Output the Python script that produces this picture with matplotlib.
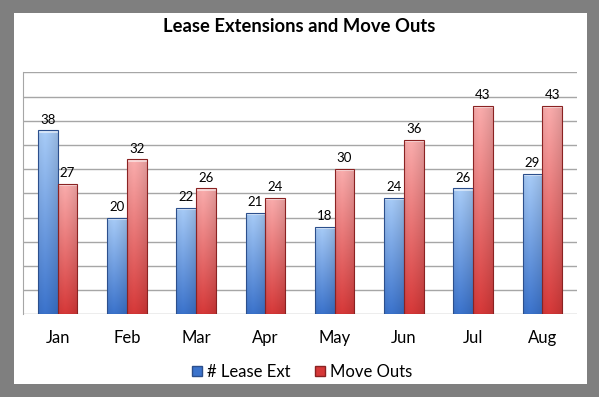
import numpy as np
import matplotlib.pyplot as plt
from matplotlib.patches import Rectangle, Patch

plt.rcParams['font.family'] = ['Lato', 'DejaVu Sans']

months = ["Jan", "Feb", "Mar", "Apr", "May", "Jun", "Jul", "Aug"]
lease_ext = [38, 20, 22, 21, 18, 24, 26, 29]
move_outs = [27, 32, 26, 24, 30, 36, 43, 43]

series_names = ["# Lease Ext", "Move Outs"]
# top colour, bottom colour, edge colour
blue = ((0.66, 0.80, 0.97), (0.23, 0.45, 0.80), "#2c4f8c")
red = ((0.98, 0.68, 0.68), (0.84, 0.22, 0.22), "#8a2222")


def gradient(top, bottom, nrows=200, ncols=30, cap=0):
    t = np.linspace(0, 1, nrows)[:, None, None]
    top = np.array(top)[None, None, :]
    bottom = np.array(bottom)[None, None, :]
    img = top * (1 - t) + bottom * t
    # cylinder-ish horizontal shading
    x = np.linspace(0, 1, ncols)
    shade = 1.0 - 0.18 * np.abs(x - 0.35) ** 1.2
    img = img * shade[None, :, None]
    img = np.broadcast_to(img, (nrows, ncols, 3)).copy()
    if cap:
        img[:cap] = img[:cap] * 0.4 + 0.6
    return np.clip(img, 0, 1)


fig = plt.figure(figsize=(5.99, 3.97), dpi=100)
fig.patch.set_facecolor("#7f7f7f")
fig.patches.append(Rectangle((14 / 599, 1 - 384 / 397), 573 / 599, 371 / 397,
                             transform=fig.transFigure, facecolor="white",
                             edgecolor="none", zorder=-5))

ax = fig.add_axes([23 / 599, 1 - 314.3 / 397, 554 / 599, 242 / 397])
ax.set_facecolor("none")

x = np.arange(len(months))
w = 0.285
for vals, off, (ctop, cbot, ec) in [(lease_ext, -w / 2, blue), (move_outs, w / 2, red)]:
    bars = ax.bar(x + off, vals, width=w, facecolor="none", edgecolor=ec,
                  linewidth=0.8, zorder=3)
    for b, v in zip(bars, vals):
        rows = int(v * 10)
        img = gradient(ctop, cbot, nrows=rows, cap=6)
        im = ax.imshow(img, extent=[b.get_x(), b.get_x() + b.get_width(), 0, v],
                       aspect="auto", zorder=2, origin="upper")
        im.set_clip_path(b)
    ax.bar_label(bars, padding=3.5, fontsize=9.5)

ax.set_xlim(-0.5, len(months) - 0.5)
ax.set_ylim(0, 50)
ax.set_yticks(np.arange(0, 51, 5))
ax.yaxis.grid(True, color="#a6a6a6", linewidth=1)
ax.set_axisbelow(True)
ax.tick_params(axis="y", length=0, labelleft=False)
ax.tick_params(axis="x", length=0, labelsize=12, pad=11)
ax.set_xticks(x)
ax.set_xticklabels(months)
for s in ["top", "right", "bottom"]:
    ax.spines[s].set_visible(False)
ax.spines["left"].set_color("#a6a6a6")

fig.text(0.5, 1 - 26 / 397, "Lease Extensions and Move Outs", ha="center",
         va="center", fontsize=13.2, fontweight="bold")

handles = [Patch(facecolor=blue[1], edgecolor=blue[2]),
           Patch(facecolor=red[1], edgecolor=red[2])]
fig.legend(handles, series_names, loc="center", bbox_to_anchor=(302 / 599, 1 - 372 / 397),
           ncol=2, frameon=False, fontsize=12, handlelength=0.6, handleheight=0.6,
           handletextpad=0.3, columnspacing=1.5)

fig.savefig("out.png", dpi=100, facecolor=fig.get_facecolor())
